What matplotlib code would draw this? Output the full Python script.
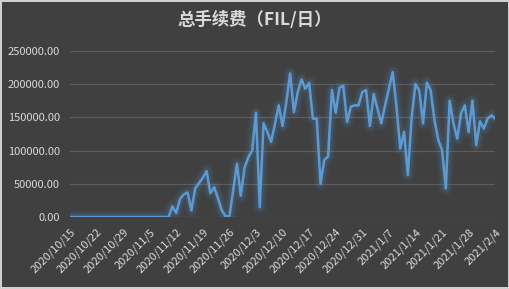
import matplotlib
matplotlib.use("Agg")
import matplotlib.pyplot as plt
import numpy as np
import pandas as pd

plt.rcParams['font.family'] = ['Noto Sans CJK SC', 'DejaVu Sans']

title = '总手续费（FIL/日）'
dates = pd.date_range('2020-10-15', '2021-02-04', freq='D')
fees = [0] * 27 + [
    16000, 6000, 27000, 34000, 37000, 10000, 43000, 51000, 59000, 69000,
    36000, 45000, 28000, 10000, 1000, 1000, 40000, 80000, 32000, 74000,
    90000, 100000, 157000, 15000, 141000, 128000, 113000, 140000, 168000, 137000,
    173000, 216000, 158000, 188000, 207000, 193000, 202000, 148000, 148000, 50000,
    86000, 91000, 191000, 157000, 195000, 197000, 143000, 166000, 168000, 168000,
    188000, 191000, 137000, 185000, 163000, 141000, 168000, 193000, 218000, 166000,
    103000, 128000, 63000, 150000, 200000, 190000, 141000, 202000, 191000, 146000,
    116000, 101000, 43000, 175000, 141000, 118000, 156000, 168000, 128000, 175000,
    108000, 144000, 133000, 148000, 153000, 148000,
]
tick_dates = pd.date_range('2020-10-15', '2021-02-04', freq='7D')
tick_labels = [f'{d.year}/{d.month}/{d.day}' for d in tick_dates]

bg = '#404040'
fig = plt.figure(figsize=(5.1, 2.89), dpi=100, facecolor=bg,
                 edgecolor='#d0d0d0', linewidth=1.5)
ax = fig.add_axes([0.137, 0.249, 0.834, 0.575], facecolor=bg)

# glow under the line
for w, a in [(10, 0.05), (7.5, 0.07), (5, 0.11)]:
    ax.plot(dates, fees, color='#5b9bd5', linewidth=w, alpha=a,
            solid_joinstyle='round', solid_capstyle='round')
ax.plot(dates, fees, color='#5b9bd5', linewidth=1.8, solid_joinstyle='round')

ax.set_xlim(dates[0], dates[-1])
ax.set_ylim(0, 250000)
ax.set_yticks(np.arange(0, 250001, 50000))
ax.set_yticklabels([f'{v:.2f}' for v in np.arange(0, 250001, 50000)])
ax.set_xticks(tick_dates)
ax.set_xticklabels(tick_labels, rotation=45, ha='right', rotation_mode='anchor')
ax.grid(axis='y', color='#5c5c5c', linewidth=0.9)
ax.set_axisbelow(True)
for s in ax.spines.values():
    s.set_visible(False)
ax.tick_params(length=0, colors='#d9d9d9', labelsize=8)
ax.tick_params(axis='y', pad=7)
ax.tick_params(axis='x', pad=7)

fig.text(0.5, 0.93, title, ha='center', va='center', color='#d9d9d9',
         fontsize=12.5, fontweight='bold')

fig.savefig('out.png', dpi=100, facecolor=bg, edgecolor=fig.get_edgecolor())
